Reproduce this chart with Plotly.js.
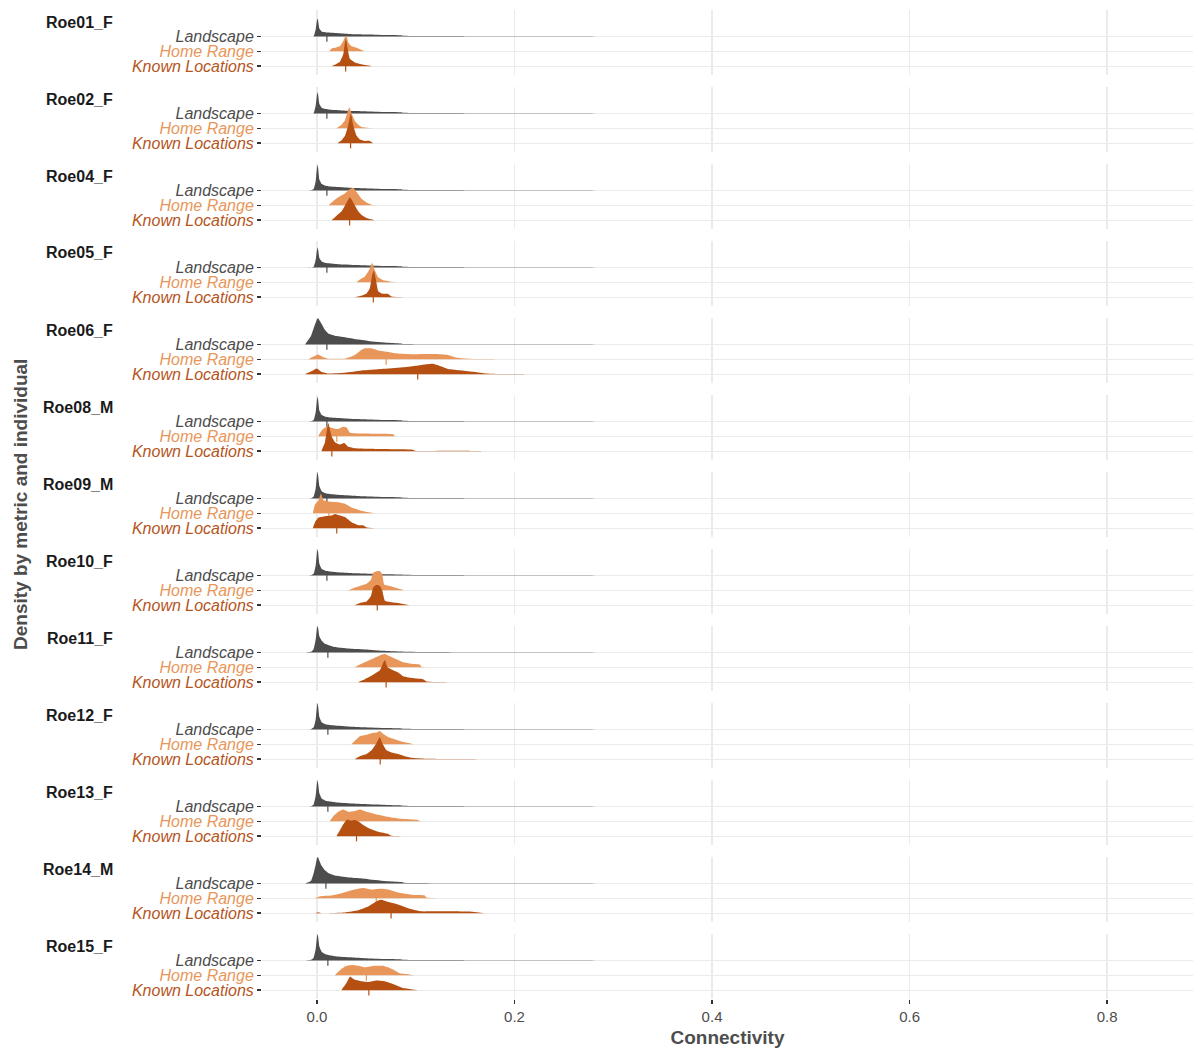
<!DOCTYPE html>
<html><head><meta charset="utf-8">
<script src="https://cdn.plot.ly/plotly-3.0.1.min.js"></script>
<style>body{margin:0;background:#fff}</style>
</head><body><div id="chart" style="width:1198px;height:1050px"></div>
<script>
// ---------- data ----------
const individuals = ['Roe01_F','Roe02_F','Roe04_F','Roe05_F','Roe06_F','Roe08_M','Roe09_M','Roe10_F','Roe11_F','Roe12_F','Roe13_F','Roe14_M','Roe15_F'];
const metrics = ['Landscape','Home Range','Known Locations'];
const metricColors = ['#4D4D4D','#E8965A','#B54F12'];
const labelColors = ['#4D4D4D','#E8965A','#B5541C'];
const xTickVals = [0,0.2,0.4,0.6,0.8];
const xTickText = ['0.0','0.2','0.4','0.6','0.8'];

// Landscape ridge: shared connectivity grid, scaled density heights per individual
const landX = [-0.012,-0.006,-0.0034,-0.0013,0,0.0007,0.0013,0.0024,0.0047,0.008,0.0114,0.018,0.0283,0.04,0.0519,0.0721,0.0862,0.0875,0.15,0.25,0.3];
const landH = [
 [0,0,0.02,0.5,1.1,1.22,1.0,0.55,0.35,0.3,0.27,0.24,0.2,0.16,0.14,0.1,0.08,0.05,0.03,0.015,0],
 [0,0,0.03,0.55,1.3,1.44,1.2,0.65,0.4,0.32,0.28,0.24,0.2,0.17,0.14,0.1,0.08,0.05,0.03,0.015,0],
 [0,0.02,0.1,0.65,1.55,1.75,1.45,0.75,0.45,0.35,0.3,0.26,0.21,0.17,0.14,0.1,0.08,0.05,0.03,0.015,0],
 [0,0,0.05,0.55,1.2,1.36,1.15,0.65,0.42,0.33,0.29,0.25,0.21,0.17,0.14,0.1,0.08,0.05,0.03,0.015,0],
 [0.03,0.6,1.1,1.5,1.7,1.76,1.78,1.65,1.4,1.0,0.75,0.6,0.5,0.36,0.25,0.12,0.06,0.04,0.03,0.015,0],
 [0,0.02,0.1,0.65,1.5,1.69,1.4,0.75,0.45,0.35,0.3,0.26,0.21,0.17,0.14,0.1,0.08,0.05,0.03,0.015,0],
 [0,0.03,0.15,0.7,1.6,1.8,1.5,0.85,0.5,0.38,0.32,0.27,0.22,0.18,0.15,0.11,0.08,0.05,0.03,0.015,0],
 [0,0.02,0.12,0.7,1.6,1.78,1.5,0.8,0.45,0.35,0.3,0.25,0.2,0.16,0.13,0.09,0.07,0.05,0.03,0.015,0],
 [0,0.05,0.25,0.9,1.65,1.8,1.6,1.1,0.8,0.6,0.52,0.38,0.3,0.24,0.2,0.11,0.07,0.06,0.03,0.015,0],
 [0,0.03,0.15,0.7,1.6,1.8,1.5,0.85,0.5,0.38,0.32,0.27,0.22,0.17,0.14,0.1,0.07,0.05,0.03,0.015,0],
 [0,0.03,0.15,0.75,1.6,1.78,1.5,0.9,0.55,0.42,0.36,0.3,0.24,0.19,0.16,0.11,0.08,0.05,0.03,0.015,0],
 [0,0.2,0.7,1.3,1.7,1.8,1.75,1.55,1.2,0.9,0.72,0.55,0.45,0.37,0.3,0.16,0.1,0.06,0.03,0.015,0],
 [0,0.05,0.2,0.8,1.6,1.8,1.55,0.95,0.6,0.45,0.38,0.3,0.24,0.19,0.15,0.11,0.08,0.05,0.03,0.015,0]
];

// Home Range ridges
const hrX = [
 [0.0125,0.0148,0.0182,0.0232,0.0266,0.0283,0.0300,0.0316,0.0350,0.0401,0.0451,0.0485],
 [0.0199,0.0215,0.0249,0.0283,0.0310,0.0327,0.0350,0.0384,0.0418,0.0451,0.0510,0.0569],
 [0.0120,0.0165,0.0215,0.0283,0.0333,0.0367,0.0401,0.0451,0.0502,0.0552,0.0603],
 [0.0401,0.0434,0.0485,0.0525,0.0559,0.0586,0.0620,0.0670,0.0754,0.0855],
 [-0.0088,-0.0020,0.0013,0.0064,0.0114,0.0283,0.0384,0.0451,0.0485,0.0552,0.0620,0.0721,0.0788,0.0956,0.1192,0.1327,0.1394,0.1461,0.1529,0.1663,0.2000],
 [0.0013,0.0047,0.0081,0.0114,0.0165,0.0215,0.0266,0.0300,0.0333,0.0451,0.0653,0.0771,0.0788,0.0923],
 [-0.0040,-0.0020,0.0013,0.0040,0.0064,0.0114,0.0215,0.0283,0.0350,0.0418,0.0485,0.0586],
 [0.0316,0.0367,0.0434,0.0502,0.0545,0.0569,0.0603,0.0636,0.0660,0.0680,0.0737,0.0788,0.0838,0.0889],
 [0.0384,0.0434,0.0502,0.0586,0.0653,0.0687,0.0737,0.0805,0.0872,0.0956,0.1040,0.1057,0.1192],
 [0.0350,0.0384,0.0434,0.0502,0.0552,0.0603,0.0636,0.0670,0.0721,0.0788,0.0855,0.0923,0.0990],
 [0.0131,0.0165,0.0215,0.0266,0.0316,0.0384,0.0434,0.0502,0.0586,0.0687,0.0822,0.1024,0.1040,0.1192],
 [-0.0020,0.0030,0.0148,0.0249,0.0350,0.0468,0.0552,0.0653,0.0721,0.0822,0.0956,0.1091,0.1108,0.1259],
 [0.0182,0.0232,0.0283,0.0350,0.0418,0.0485,0.0586,0.0670,0.0754,0.0838,0.0923,0.0990]
];
const hrH = [
 [0,0.2,0.25,0.35,0.7,0.98,1.04,0.6,0.35,0.25,0.1,0],
 [0,0.1,0.25,0.55,1.1,1.44,1.0,0.5,0.25,0.1,0.04,0],
 [0,0.3,0.55,0.8,1.1,1.2,0.9,0.45,0.2,0.05,0],
 [0,0.2,0.4,0.8,1.31,0.8,0.35,0.15,0.05,0],
 [0,0.25,0.33,0.15,0.05,0.05,0.3,0.65,0.75,0.75,0.6,0.5,0.42,0.35,0.36,0.3,0.15,0.08,0.05,0.02,0],
 [0,0.4,0.6,0.65,0.55,0.5,0.65,0.6,0.25,0.2,0.18,0.15,0.03,0],
 [0,0.6,0.85,1.35,0.9,0.8,0.75,0.65,0.4,0.25,0.12,0],
 [0,0.15,0.3,0.45,0.7,1.2,1.3,1.31,1.1,0.4,0.3,0.2,0.1,0],
 [0,0.2,0.4,0.65,0.85,0.9,0.75,0.55,0.35,0.25,0.2,0.05,0],
 [0,0.25,0.55,0.65,0.75,0.8,0.9,0.7,0.5,0.35,0.2,0.1,0],
 [0,0.35,0.65,0.8,0.65,0.7,0.8,0.65,0.5,0.35,0.2,0.1,0.03,0],
 [0,0.15,0.2,0.35,0.55,0.7,0.6,0.65,0.6,0.4,0.25,0.2,0.05,0],
 [0,0.35,0.6,0.7,0.65,0.55,0.65,0.65,0.45,0.15,0.08,0]
];

// Known Locations ridges
const klX = [
 [0.0148,0.0182,0.0232,0.0266,0.0283,0.0293,0.0310,0.0333,0.0384,0.0451,0.0552],
 [0.0209,0.0249,0.0283,0.0316,0.0343,0.0367,0.0401,0.0434,0.0485,0.0535,0.0569],
 [0.0148,0.0165,0.0199,0.0249,0.0300,0.0333,0.0367,0.0418,0.0451,0.0502,0.0586],
 [0.0384,0.0451,0.0502,0.0535,0.0559,0.0576,0.0596,0.0620,0.0653,0.0721,0.0754,0.0889],
 [-0.0121,-0.0040,-0.0003,0.0047,0.0114,0.0283,0.0451,0.0653,0.0855,0.0990,0.1091,0.1175,0.1226,0.1327,0.1461,0.1596,0.1714,0.1865,0.2100],
 [0.0047,0.0081,0.0114,0.0148,0.0182,0.0232,0.0276,0.0316,0.0384,0.0620,0.0973,0.0990,0.1461,0.1663],
 [-0.0040,-0.0020,0.0013,0.0081,0.0148,0.0182,0.0232,0.0283,0.0350,0.0418,0.0468,0.0502,0.0586],
 [0.0384,0.0434,0.0502,0.0545,0.0569,0.0603,0.0636,0.0660,0.0687,0.0754,0.0822,0.0855,0.0939],
 [0.0418,0.0485,0.0569,0.0636,0.0670,0.0687,0.0714,0.0771,0.0822,0.0872,0.0939,0.1074,0.1108,0.1461],
 [0.0384,0.0434,0.0502,0.0552,0.0603,0.0636,0.0660,0.0704,0.0754,0.0822,0.0889,0.0956,0.1108,0.1798],
 [0.0199,0.0232,0.0266,0.0300,0.0350,0.0384,0.0418,0.0468,0.0535,0.0620,0.0721,0.0754,0.1798],
 [-0.0020,0.0013,0.0047,0.0283,0.0418,0.0519,0.0620,0.0653,0.0721,0.0788,0.0855,0.0939,0.1057,0.1158,0.1562,0.1697],
 [0.0249,0.0300,0.0333,0.0384,0.0451,0.0519,0.0603,0.0687,0.0754,0.0872,0.0973,0.1024]
];
const klH = [
 [0,0.1,0.3,0.8,1.6,1.85,1.2,0.5,0.25,0.12,0],
 [0,0.2,0.5,1.2,2.0,1.2,0.5,0.25,0.15,0.15,0],
 [0,0.1,0.3,0.6,1.2,1.55,1.2,0.6,0.35,0.15,0],
 [0,0.1,0.25,0.6,1.5,1.8,1.2,0.4,0.25,0.22,0.05,0],
 [0,0.25,0.38,0.15,0.05,0.1,0.25,0.35,0.45,0.55,0.65,0.7,0.6,0.35,0.25,0.15,0.05,0.01,0],
 [0,0.6,1.9,1.0,0.6,0.45,0.55,0.3,0.2,0.15,0.1,0.03,0.02,0],
 [0,0.4,0.7,0.8,0.85,0.95,0.85,0.75,0.4,0.2,0.2,0.05,0],
 [0,0.15,0.25,0.6,1.2,1.38,1.3,1.0,0.3,0.2,0.15,0.1,0],
 [0,0.2,0.5,0.8,1.3,1.5,1.0,0.8,0.65,0.4,0.3,0.2,0.05,0],
 [0,0.2,0.35,0.6,1.1,1.5,1.1,0.6,0.45,0.35,0.2,0.1,0.03,0],
 [0,0.4,0.8,1.1,1.05,1.1,1.0,0.75,0.5,0.3,0.15,0.03,0],
 [0,0.06,0,0.05,0.2,0.45,0.85,0.9,0.75,0.65,0.5,0.3,0.12,0.12,0.1,0],
 [0,0.5,0.9,0.7,0.6,0.55,0.65,0.6,0.45,0.15,0.05,0]
];

// median markers
const landMed = [0.010,0.010,0.010,0.010,0.010,0.010,0.010,0.010,0.011,0.011,0.011,0.009,0.011];
const hrMed   = [0.029,0.033,0.034,0.056,0.070,0.020,0.012,0.061,0.069,0.063,0.035,0.060,0.050];
const klMed   = [0.029,0.034,0.033,0.057,0.102,0.015,0.020,0.061,0.070,0.064,0.040,0.075,0.0525];

// ---------- layout geometry ----------
const W = 1198, H = 1050, mL = 262, mR = 5, mT = 10, mB = 51;
const plotW = W - mL - mR, plotH = H - mT - mB;
const panelH = 65, step = 77;
const rowBase = [3, 2, 1]; // Landscape, Home Range, Known Locations
const FONT = 'Liberation Sans, Arial, Helvetica, sans-serif';

const traces = [];
const annotations = [];
const layout = {
  width: W, height: H,
  margin: {l: mL, r: mR, t: mT, b: mB, pad: 0},
  paper_bgcolor: '#FFFFFF', plot_bgcolor: 'rgba(0,0,0,0)',
  showlegend: false, hovermode: false,
  font: {family: FONT, color: '#4D4D4D'},
  xaxis: {
    anchor: 'y' + individuals.length,
    domain: [0, 1],
    range: [-0.0557, 0.887],
    tickvals: xTickVals, ticktext: xTickText,
    ticks: 'outside', ticklen: 4, tickwidth: 1.3, tickcolor: '#333333',
    tickfont: {family: FONT, size: 15, color: '#4D4D4D'},
    showgrid: true, gridcolor: '#EBEBEB', gridwidth: 1.2,
    zeroline: false, showline: false, automargin: false,
    title: {text: 'Connectivity', standoff: 6, font: {family: FONT, size: 19, color: '#4D4D4D', weight: 'bold'}}
  },
  annotations: annotations
};

individuals.forEach((ind, i) => {
  const yName = i === 0 ? 'y' : 'y' + (i + 1);
  const axKey = i === 0 ? 'yaxis' : 'yaxis' + (i + 1);
  const topPx = step * i;
  layout[axKey] = {
    domain: [1 - (topPx + panelH) / plotH, 1 - topPx / plotH],
    range: [0.4, 4.8],
    anchor: 'x',
    tickvals: [1, 2, 3],
    ticktext: [2, 1, 0].map(k => '<span style="color:' + labelColors[k] + '"><i>' + metrics[k] + '</i></span>'),
    tickfont: {family: FONT, size: 16},
    ticks: 'outside', ticklen: 4, tickwidth: 1.5, tickcolor: '#333333',
    showgrid: true, gridcolor: '#EBEBEB', gridwidth: 1.2,
    zeroline: false, showline: false, automargin: false, fixedrange: true
  };

  const curves = [[landX, landH[i]], [hrX[i], hrH[i]], [klX[i], klH[i]]];
  const meds = [landMed[i], hrMed[i], klMed[i]];
  curves.forEach((c, k) => {
    const xs = c[0], hs = c[1], base = rowBase[k];
    const px = xs.concat(xs.slice().reverse());
    const py = hs.map(h => base + h).concat(xs.map(() => base));
    traces.push({
      type: 'scatter', mode: 'lines', x: px, y: py, xaxis: 'x', yaxis: yName,
      fill: 'toself', fillcolor: metricColors[k],
      line: {color: metricColors[k], width: 0, shape: 'spline', smoothing: 0.4},
      hoverinfo: 'skip'
    });
    traces.push({
      type: 'scatter', mode: 'markers', x: [meds[k]], y: [base - 0.12],
      xaxis: 'x', yaxis: yName,
      marker: {symbol: 'line-ns', size: 5, line: {width: 1.2, color: metricColors[k]}},
      hoverinfo: 'skip'
    });
  });

  annotations.push({
    text: '<b>' + ind + '</b>', xref: 'paper', yref: 'paper',
    x: (115 - mL) / plotW, xanchor: 'right',
    y: 1 - (topPx + 12) / plotH, yanchor: 'middle',
    showarrow: false, font: {family: FONT, size: 16, color: '#1A1A1A'}
  });
});

annotations.push({
  text: '<b>Density by metric and individual</b>', xref: 'paper', yref: 'paper',
  x: (20 - mL) / plotW, xanchor: 'center', y: 1 - (505 - mT) / plotH, yanchor: 'middle',
  textangle: -90, showarrow: false, font: {family: FONT, size: 19, color: '#4D4D4D'}
});

Plotly.newPlot('chart', traces, layout, {staticPlot: true, displayModeBar: false});
</script></body></html>
